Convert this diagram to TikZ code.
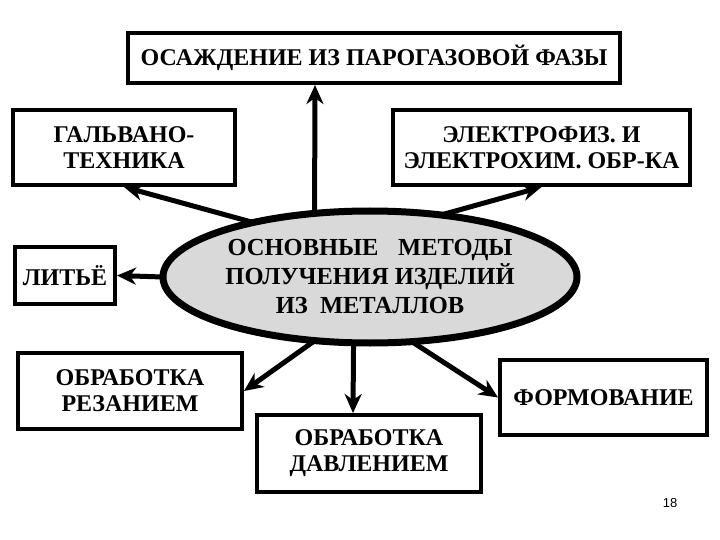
\documentclass[tikz,border=0pt]{standalone}
\usepackage{fontspec}
\setmainfont{Liberation Serif}[BoldFont={Liberation Serif Bold}]
\newfontfamily\numfont{Liberation Sans}
\usetikzlibrary{shapes.geometric,arrows.meta,calc}
\begin{document}
\begin{tikzpicture}[x=1pt,y=-1pt,
  box/.style={draw=black,line width=4pt,fill=white,inner sep=0pt,align=center,
    font=\fontsize{24}{26}\selectfont\bfseries},
  arr/.style={line width=5pt,-{Stealth[length=19pt,width=17pt,inset=6pt]}}]
\useasboundingbox (0,0) rectangle (720,540);
\node[box,minimum width=492,minimum height=50] (top) at (374,58) {ОСАЖДЕНИЕ ИЗ ПАРОГАЗОВОЙ ФАЗЫ};
\node[box,minimum width=222,minimum height=75] (galv) at (124,147.5) {ГАЛЬВАНО-\\ТЕХНИКА};
\node[box,minimum width=297,minimum height=75] (elec) at (541.5,147.5) {ЭЛЕКТРОФИЗ. И\\ЭЛЕКТРОХИМ. ОБР-КА};
\node[box,minimum width=100,minimum height=57] (lit) at (65,275.5) {ЛИТЬЁ};
\node[box,minimum width=224,minimum height=76] (rez) at (130,391) {ОБРАБОТКА\\РЕЗАНИЕМ};
\node[box,minimum width=224,minimum height=77] (dav) at (369,453.5) {ОБРАБОТКА\\ДАВЛЕНИЕМ};
\node[box,minimum width=207,minimum height=75] (form) at (603.5,397.5) {ФОРМОВАНИЕ};
\node[ellipse,minimum width=414,minimum height=132,inner sep=0pt] (ell) at (370,277) {};
\draw[arr] (ell.131) -- ([xshift=189pt]top.south west);
\draw[arr] (ell.155) -- (galv.south);
\draw[arr] (ell.41) -- (elec.south);
\draw[arr] (ell.west) -- (lit.east);
\draw[arr] (ell.229) -- (rez.east);
\draw[arr] (ell.256) -- ([xshift=-16pt]dav.north);
\draw[arr] (ell.303) -- (form.west);
\node[ellipse,draw=black,line width=7pt,fill=black!15,minimum width=414,minimum height=132,inner sep=0pt,
  align=center,font=\fontsize{24.5}{29}\selectfont\bfseries] at (ell) {ОСНОВНЫЕ\hspace{0.8em}МЕТОДЫ\\ПОЛУЧЕНИЯ ИЗДЕЛИЙ\\ИЗ\hspace{0.5em}МЕТАЛЛОВ};
\node[font=\numfont\fontsize{13}{15}\selectfont] (pg) at (670,503) {18};
\end{tikzpicture}
\end{document}
